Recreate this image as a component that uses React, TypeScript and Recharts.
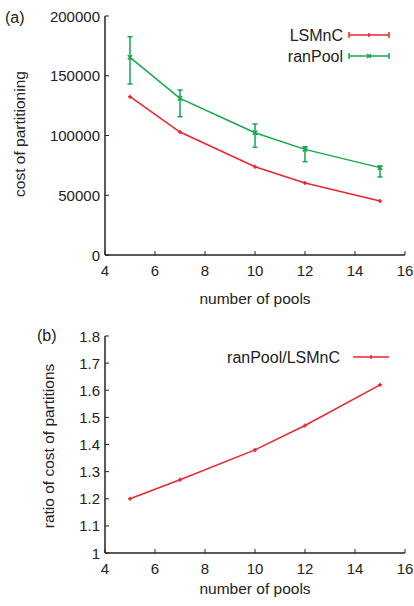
import React from "react";
import { LineChart, Line, XAxis, YAxis, ErrorBar } from "recharts";

const pools = [5, 7, 10, 12, 15];
const lsmnc = [132500, 102900, 73900, 60300, 45200];
const ranPool = [165400, 131100, 102300, 88400, 73100];
const ranLow = [143100, 115700, 90100, 78100, 65300];
const ranHigh = [182700, 138100, 109600, 90600, 74500];
const ratio = [1.2, 1.27, 1.38, 1.47, 1.62];

const xTicks = [4, 6, 8, 10, 12, 14, 16];
const yTicksA = [0, 50000, 100000, 150000, 200000];
const yTicksB = [1, 1.1, 1.2, 1.3, 1.4, 1.5, 1.6, 1.7, 1.8];

const RED = "#e8262e";
const GREEN = "#12a84c";
const FONT = "'Liberation Sans', Arial, sans-serif";
const TL = 4;
const TICKFS = 15;
const LABFS = 15.5;

const dataA = pools.map((p, i) => ({
  x: p,
  lsmnc: lsmnc[i],
  ran: ranPool[i],
  err: [ranPool[i] - ranLow[i], ranHigh[i] - ranPool[i]],
}));
const dataB = pools.map((p, i) => ({ x: p, ratio: ratio[i] }));

const BottomTick = (props: any) => {
  const { x, y, payload } = props;
  return (
    <g>
      <line x1={x} y1={y} x2={x} y2={y - TL} stroke="#222" strokeWidth={1} />
      <text x={x} y={y + 21} textAnchor="middle" fontSize={TICKFS} fill="#222" fontFamily={FONT}>
        {payload.value}
      </text>
    </g>
  );
};
const TopTick = (props: any) => {
  const { x, y } = props;
  return <line x1={x} y1={y} x2={x} y2={y + TL} stroke="#222" strokeWidth={1} />;
};
const LeftTick = (props: any) => {
  const { x, y, payload } = props;
  return (
    <g>
      <line x1={x} y1={y} x2={x + TL} y2={y} stroke="#222" strokeWidth={1} />
      <text x={x - 5} y={y + 5.5} textAnchor="end" fontSize={TICKFS} fill="#222" fontFamily={FONT}>
        {payload.value}
      </text>
    </g>
  );
};
const RightTick = (props: any) => {
  const { x, y } = props;
  return <line x1={x} y1={y} x2={x - TL} y2={y} stroke="#222" strokeWidth={1} />;
};

const PlusDot = (color: string) => (props: any) => {
  const { cx, cy } = props;
  if (cx == null || cy == null) return null;
  return (
    <g>
      <line x1={cx - 2} y1={cy} x2={cx + 2} y2={cy} stroke={color} strokeWidth={1.5} />
      <line x1={cx} y1={cy - 2} x2={cx} y2={cy + 2} stroke={color} strokeWidth={1.5} />
    </g>
  );
};
const XDot = (color: string) => (props: any) => {
  const { cx, cy } = props;
  if (cx == null || cy == null) return null;
  return (
    <g>
      <line x1={cx - 2.2} y1={cy - 2.2} x2={cx + 2.2} y2={cy + 2.2} stroke={color} strokeWidth={1.5} />
      <line x1={cx - 2.2} y1={cy + 2.2} x2={cx + 2.2} y2={cy - 2.2} stroke={color} strokeWidth={1.5} />
    </g>
  );
};

const KeyA = () => (
  <svg width={414} height={70} style={{ position: "absolute", left: 0, top: 0, pointerEvents: "none" }}>
    <text x={343} y={40.5} textAnchor="end" fontSize={16} fill="#222" fontFamily={FONT}>LSMnC</text>
    <line x1={349} y1={35} x2={389} y2={35} stroke={RED} strokeWidth={1.5} />
    <line x1={349} y1={32} x2={349} y2={38} stroke={RED} strokeWidth={1.5} />
    <line x1={389} y1={32} x2={389} y2={38} stroke={RED} strokeWidth={1.5} />
    <line x1={369} y1={33} x2={369} y2={37} stroke={RED} strokeWidth={1.5} />
    <text x={343} y={61.5} textAnchor="end" fontSize={16} fill="#222" fontFamily={FONT}>ranPool</text>
    <line x1={349} y1={56} x2={389} y2={56} stroke={GREEN} strokeWidth={1.5} />
    <line x1={349} y1={53} x2={349} y2={59} stroke={GREEN} strokeWidth={1.5} />
    <line x1={389} y1={53} x2={389} y2={59} stroke={GREEN} strokeWidth={1.5} />
    <line x1={367} y1={54} x2={371} y2={58} stroke={GREEN} strokeWidth={1.5} />
    <line x1={367} y1={58} x2={371} y2={54} stroke={GREEN} strokeWidth={1.5} />
  </svg>
);

const KeyB = () => (
  <svg width={414} height={70} style={{ position: "absolute", left: 0, top: 330, pointerEvents: "none" }}>
    <text x={340} y={32.5} textAnchor="end" fontSize={16} fill="#222" fontFamily={FONT}>ranPool/LSMnC</text>
    <line x1={353} y1={27} x2={389} y2={27} stroke={RED} strokeWidth={1.5} />
    <line x1={371} y1={25} x2={371} y2={29} stroke={RED} strokeWidth={1.5} />
  </svg>
);

const axisStroke = { stroke: "#222", strokeWidth: 1.5 };

export default function App() {
  return (
    <div style={{ position: "absolute", left: 0, top: 0, width: 414, height: 606, background: "#fff", fontFamily: FONT }}>
      <div style={{ position: "absolute", left: 0, top: 0 }}>
        <LineChart width={414} height={300} data={dataA} margin={{ top: 16, right: 9, left: 0, bottom: 0 }}>
          <XAxis xAxisId="b" dataKey="x" type="number" domain={[4, 16]} ticks={xTicks} tickSize={0} tickMargin={0}
            height={45} axisLine={axisStroke} tickLine={false} tick={<BottomTick />} interval={0} />
          <XAxis xAxisId="t" orientation="top" dataKey="x" type="number" domain={[4, 16]} ticks={xTicks} tickSize={0} tickMargin={0}
            height={0} axisLine={axisStroke} tickLine={false} tick={<TopTick />} interval={0} />
          <YAxis yAxisId="l" type="number" domain={[0, 200000]} ticks={yTicksA} tickSize={0} tickMargin={0}
            width={105} axisLine={axisStroke} tickLine={false} tick={<LeftTick />} interval={0} />
          <YAxis yAxisId="r" orientation="right" type="number" domain={[0, 200000]} ticks={yTicksA} tickSize={0} tickMargin={0}
            width={0} axisLine={axisStroke} tickLine={false} tick={<RightTick />} interval={0} />
          <Line xAxisId="b" yAxisId="l" dataKey="lsmnc" stroke={RED} strokeWidth={1.5} dot={PlusDot(RED)} isAnimationActive={false} type="linear" />
          <Line xAxisId="b" yAxisId="l" dataKey="ran" stroke={GREEN} strokeWidth={1.5} dot={XDot(GREEN)} isAnimationActive={false} type="linear">
            <ErrorBar dataKey="err" direction="y" width={2.5} stroke={GREEN} strokeWidth={1.5} isAnimationActive={false} />
          </Line>
        </LineChart>
        <KeyA />
      </div>
      <div style={{ position: "absolute", left: 0, top: 300 }}>
        <LineChart width={414} height={306} data={dataB} margin={{ top: 36, right: 9, left: 0, bottom: 0 }}>
          <XAxis xAxisId="b" dataKey="x" type="number" domain={[4, 16]} ticks={xTicks} tickSize={0} tickMargin={0}
            height={53} axisLine={axisStroke} tickLine={false} tick={<BottomTick />} interval={0} />
          <XAxis xAxisId="t" orientation="top" dataKey="x" type="number" domain={[4, 16]} ticks={xTicks} tickSize={0} tickMargin={0}
            height={0} axisLine={axisStroke} tickLine={false} tick={<TopTick />} interval={0} />
          <YAxis yAxisId="l" type="number" domain={[1, 1.8]} ticks={yTicksB} tickSize={0} tickMargin={0}
            width={105} axisLine={axisStroke} tickLine={false} tick={<LeftTick />} interval={0} />
          <YAxis yAxisId="r" orientation="right" type="number" domain={[1, 1.8]} ticks={yTicksB} tickSize={0} tickMargin={0}
            width={0} axisLine={axisStroke} tickLine={false} tick={<RightTick />} interval={0} />
          <Line xAxisId="b" yAxisId="l" dataKey="ratio" stroke={RED} strokeWidth={1.5} dot={PlusDot(RED)} isAnimationActive={false} type="linear" />
        </LineChart>
      </div>
      <KeyB />
      <svg width={414} height={606} style={{ position: "absolute", left: 0, top: 0, pointerEvents: "none" }}>
        <text x={5} y={23} fontSize={16} fill="#222" fontFamily={FONT}>(a)</text>
        <text x={255} y={304} textAnchor="middle" fontSize={LABFS} fill="#222" fontFamily={FONT}>number of pools</text>
        <text x={0} y={0} transform="translate(25,134) rotate(-90)" textAnchor="middle" fontSize={LABFS} fill="#222" fontFamily={FONT}>cost of partitioning</text>
        <text x={37} y={341} fontSize={16} fill="#222" fontFamily={FONT}>(b)</text>
        <text x={255} y={594} textAnchor="middle" fontSize={LABFS} fill="#222" fontFamily={FONT}>number of pools</text>
        <text x={0} y={0} transform="translate(54,446) rotate(-90)" textAnchor="middle" fontSize={LABFS} fill="#222" fontFamily={FONT}>ratio of cost of partitions</text>
      </svg>
    </div>
  );
}
